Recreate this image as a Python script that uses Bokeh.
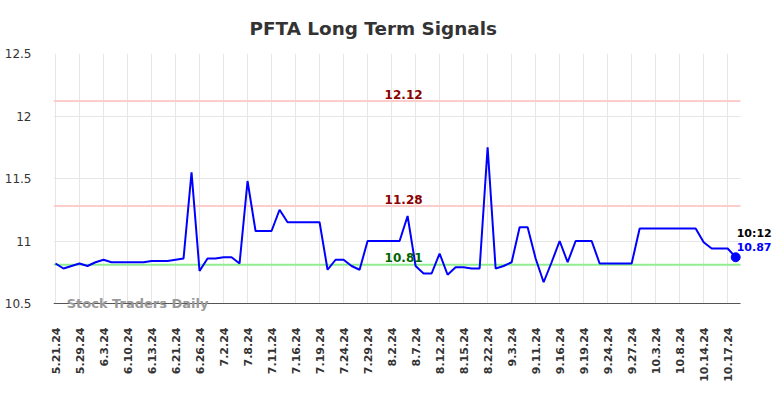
import math
from bokeh.plotting import figure
from bokeh.models import Range1d, FixedTicker, Label, ColumnDataSource
from bokeh.embed import file_html
from bokeh.resources import INLINE

# ---- data ----
tick_labels = ["5.21.24", "5.29.24", "6.3.24", "6.10.24", "6.13.24", "6.21.24",
               "6.26.24", "7.2.24", "7.8.24", "7.11.24", "7.16.24", "7.19.24",
               "7.24.24", "7.29.24", "8.2.24", "8.7.24", "8.12.24", "8.15.24",
               "8.22.24", "9.3.24", "9.11.24", "9.16.24", "9.19.24", "9.24.24",
               "9.27.24", "10.3.24", "10.8.24", "10.14.24", "10.17.24"]
label_step = 3

prices = [10.82, 10.78, 10.80, 10.82, 10.80, 10.83, 10.85, 10.83, 10.83, 10.83,
          10.83, 10.83, 10.84, 10.84, 10.84, 10.85, 10.86, 11.55, 10.76, 10.86,
          10.86, 10.87, 10.87, 10.82, 11.48, 11.08, 11.08, 11.08, 11.25, 11.15,
          11.15, 11.15, 11.15, 11.15, 10.77, 10.85, 10.85, 10.80, 10.77, 11.00,
          11.00, 11.00, 11.00, 11.00, 11.20, 10.80, 10.74, 10.74, 10.90, 10.73,
          10.79, 10.79, 10.78, 10.78, 11.75, 10.78, 10.80, 10.83, 11.11, 11.11,
          10.86, 10.67, 10.83, 11.00, 10.83, 11.00, 11.00, 11.00, 10.82, 10.82,
          10.82, 10.82, 10.82, 11.10, 11.10, 11.10, 11.10, 11.10, 11.10, 11.10,
          11.10, 10.99, 10.94, 10.94, 10.94, 10.87]

resistance_high = 12.12
resistance_low = 11.28
support = 10.81
last_time = "10:12"
y_ticks = [10.5, 11, 11.5, 12, 12.5]
y_tick_labels = ["10.5", "11", "11.5", "12", "12.5"]

# ---- layout constants ----
xs = list(range(len(prices)))
n_last = xs[-1]
x_lo, x_hi = -0.25, n_last + 0.6          # visible chart area (axis / grid extent)
y_lo, y_hi = y_ticks[0], y_ticks[-1]
frame_x_end = n_last + 5.6                 # room for the right-hand labels
frame_y_start = y_lo - 0.072               # room for the watermark below the axis

src = ColumnDataSource(dict(x=xs, y=prices))

p = figure(width=780, height=390, output_backend="svg", toolbar_location=None,
           x_range=Range1d(x_lo, frame_x_end), y_range=Range1d(frame_y_start, y_hi),
           min_border_left=53, min_border_right=0, min_border_top=53,
           min_border_bottom=78)
p.outline_line_color = None
p.background_fill_color = "white"

p.title.text = "PFTA Long Term Signals"
p.title.align = "left"
p.title.offset = 196
p.title.standoff = 29
p.title.text_font = "DejaVu Sans"
p.title.text_font_size = "18.4px"
p.title.text_font_style = "bold"
p.title.text_color = "#333333"

ticks = list(range(0, len(tick_labels) * label_step, label_step))
p.xaxis.ticker = FixedTicker(ticks=ticks)
p.xaxis.major_label_overrides = {t: lab for t, lab in zip(ticks, tick_labels)}
p.xaxis.major_label_orientation = math.pi / 2
p.xaxis.major_label_text_font = "DejaVu Sans"
p.xaxis.major_label_text_font_style = "bold"
p.xaxis.major_label_text_font_size = "11px"
p.xaxis.major_label_text_color = "#333333"
p.xaxis.major_label_standoff = 9
p.xaxis.major_tick_line_color = None
p.xaxis.minor_tick_line_color = None
p.xaxis.axis_line_color = None

p.yaxis.ticker = FixedTicker(ticks=y_ticks)
p.yaxis.major_label_overrides = {t: lab for t, lab in zip(y_ticks, y_tick_labels)}
p.yaxis.major_label_text_font = "DejaVu Sans"
p.yaxis.major_label_text_font_size = "12px"
p.yaxis.major_label_text_color = "#333333"
p.yaxis.major_label_standoff = 16
p.yaxis.major_tick_line_color = None
p.yaxis.minor_tick_line_color = None
p.yaxis.axis_line_color = None
p.yaxis.bounds = (y_lo, y_hi)

p.xgrid.grid_line_color = "#e6e6e6"
p.ygrid.grid_line_color = "#e6e6e6"
p.xgrid.cross_bounds = (y_lo, y_hi)
p.ygrid.cross_bounds = (x_lo, x_hi)

# x-axis baseline drawn over the chart area only
p.segment(x0=[x_lo], x1=[x_hi], y0=[y_lo], y1=[y_lo],
          line_color="#555555", line_width=1)

levels = [resistance_high, resistance_low, support]
level_colors = ["#ffcccc", "#ffcccc", "#90ee90"]
p.segment(x0=[x_lo] * 3, x1=[x_hi] * 3, y0=levels, y1=levels,
          line_color=level_colors, line_width=2)

p.line("x", "y", source=src, line_color="blue", line_width=2)
p.scatter(x=[n_last], y=[prices[-1]], size=9, color="blue")

label_x = 43.5
for lvl, col in zip(levels, ["#8b0000", "#8b0000", "#006400"]):
    p.add_layout(Label(x=label_x, y=lvl, y_offset=7, text=f"{lvl:.2f}",
                       text_align="center", text_baseline="middle",
                       text_font="DejaVu Sans", text_font_style="bold",
                       text_font_size="12px", text_color=col))

p.add_layout(Label(x=n_last, y=prices[-1], x_offset=1, y_offset=24,
                   text=last_time, text_baseline="middle",
                   text_font="DejaVu Sans", text_font_style="bold",
                   text_font_size="11px", text_color="black"))
p.add_layout(Label(x=n_last, y=prices[-1], x_offset=1, y_offset=10,
                   text=f"{prices[-1]:.2f}", text_baseline="middle",
                   text_font="DejaVu Sans", text_font_style="bold",
                   text_font_size="11px", text_color="blue"))

p.add_layout(Label(x=1.4, y=y_lo, text="Stock Traders Daily",
                   text_baseline="middle", text_font="DejaVu Sans",
                   text_font_style="bold", text_font_size="13px",
                   text_color="#999999"))

open("out.html", "w").write(file_html(p, INLINE))
